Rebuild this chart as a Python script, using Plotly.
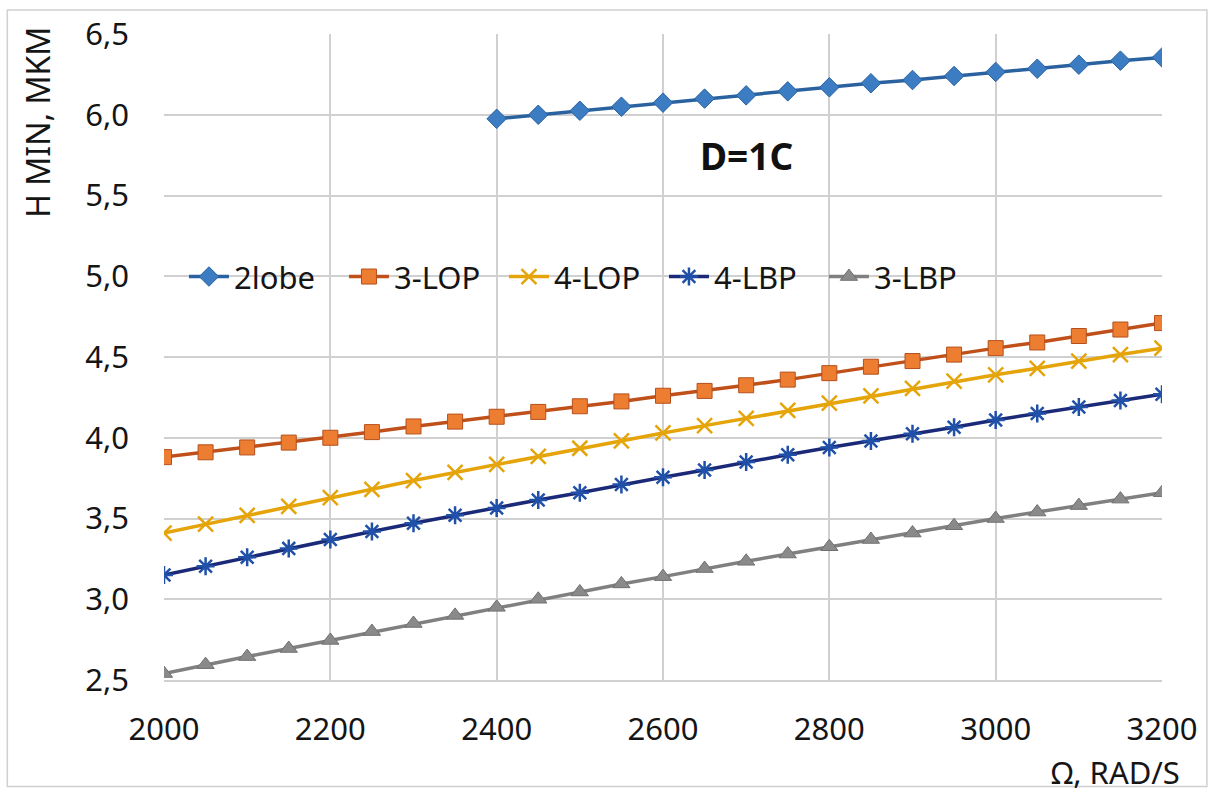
import plotly.graph_objects as go

omega = [2000, 2050, 2100, 2150, 2200, 2250, 2300, 2350, 2400, 2450, 2500, 2550, 2600,
         2650, 2700, 2750, 2800, 2850, 2900, 2950, 3000, 3050, 3100, 3150, 3200]
omega_2lobe = [2400, 2450, 2500, 2550, 2600, 2650, 2700, 2750, 2800, 2850, 2900, 2950,
               3000, 3050, 3100, 3150, 3200]
h_2lobe = [5.975, 6.0, 6.025, 6.05, 6.075, 6.10, 6.12, 6.145, 6.17, 6.195, 6.215, 6.24,
           6.265, 6.285, 6.31, 6.335, 6.355]
h_3lop = [3.88, 3.91, 3.94, 3.97, 4.00, 4.035, 4.07, 4.10, 4.13, 4.16, 4.195, 4.225, 4.26,
          4.29, 4.325, 4.36, 4.40, 4.44, 4.475, 4.515, 4.555, 4.59, 4.63, 4.67, 4.71]
h_4lop = [3.41, 3.465, 3.52, 3.575, 3.63, 3.68, 3.735, 3.785, 3.835, 3.885, 3.935, 3.98, 4.03,
          4.075, 4.12, 4.17, 4.215, 4.26, 4.305, 4.35, 4.39, 4.43, 4.475, 4.515, 4.555]
h_4lbp = [3.15, 3.205, 3.26, 3.315, 3.37, 3.42, 3.47, 3.52, 3.565, 3.615, 3.66, 3.71, 3.755,
          3.80, 3.85, 3.895, 3.94, 3.98, 4.025, 4.065, 4.11, 4.15, 4.19, 4.23, 4.27]
h_3lbp = [2.54, 2.595, 2.645, 2.695, 2.745, 2.80, 2.85, 2.90, 2.95, 3.00, 3.045, 3.095, 3.14,
          3.19, 3.235, 3.28, 3.325, 3.37, 3.41, 3.455, 3.50, 3.54, 3.58, 3.62, 3.66]

FONT = "Noto Sans"
TXT = "#151515"

fig = go.Figure()
fig.add_trace(go.Scatter(x=omega_2lobe, y=h_2lobe, name="2lobe", mode="lines+markers",
                         line=dict(color="#2a62a0", width=3.5),
                         marker=dict(symbol="diamond", size=15, color="#3b7cc2",
                                     line=dict(color="#2a62a0", width=1))))
fig.add_trace(go.Scatter(x=omega, y=h_3lop, name="3-LOP", mode="lines+markers",
                         line=dict(color="#c0501a", width=3.5),
                         marker=dict(symbol="square", size=15, color="#ed7d31",
                                     line=dict(color="#b5501c", width=1))))
fig.add_trace(go.Scatter(x=omega, y=h_4lop, name="4-LOP", mode="lines+markers",
                         line=dict(color="#e5a50a", width=3.5),
                         marker=dict(symbol="x-thin-open", size=15, color="#e5a50a",
                                     line=dict(color="#e5a50a", width=2.5))))
fig.add_trace(go.Scatter(x=omega, y=h_4lbp, name="4-LBP", mode="lines+markers",
                         line=dict(color="#1a2a78", width=3.5),
                         marker=dict(symbol="asterisk-open", size=15, color="#2050a8",
                                     line=dict(color="#2050a8", width=2.5))))
fig.add_trace(go.Scatter(x=omega, y=h_3lbp, name="3-LBP", mode="lines+markers",
                         line=dict(color="#808080", width=3.5),
                         marker=dict(symbol="triangle-up", size=15, color="#8a8a8a",
                                     line=dict(color="#707070", width=1))))

fig.update_layout(
    width=1214, height=794,
    margin=dict(l=164, r=52, t=31, b=114),
    paper_bgcolor="white", plot_bgcolor="white",
    separators=", ",
    font=dict(family=FONT, size=31, color=TXT),
    showlegend=True,
    legend=dict(orientation="h", x=0.02, y=0.624, xanchor="left", yanchor="middle",
                bgcolor="rgba(0,0,0,0)", font=dict(family=FONT, size=31, color=TXT),
                itemwidth=40, tracegroupgap=0, entrywidth=105, entrywidthmode="pixels"),
)
fig.update_xaxes(range=[2000, 3200], tickvals=[2000, 2200, 2400, 2600, 2800, 3000, 3200],
                 showgrid=True, gridcolor="#d0d0d0", gridwidth=1.5,
                 showline=True, linecolor="#d0d0d0", linewidth=1.5,
                 zeroline=False, ticks="", ticklabelstandoff=21,
                 tickfont=dict(family=FONT, size=31, color=TXT))
fig.update_yaxes(range=[2.5, 6.5], dtick=0.5, tickformat=".1f",
                 showgrid=True, gridcolor="#d0d0d0", gridwidth=1.5,
                 showline=False, zeroline=False, ticks="", ticklabelstandoff=34,
                 tickfont=dict(family=FONT, size=31, color=TXT))

fig.add_annotation(x=2700, y=5.75, xref="x", yref="y", text="<b>D=1C</b>", showarrow=False,
                   font=dict(family=FONT, size=37, color="#111111"))
fig.add_annotation(x=-0.127, y=1.014, xref="paper", yref="paper", text="H MIN, MKM",
                   textangle=-90, showarrow=False, xanchor="center", yanchor="top",
                   font=dict(family=FONT, size=32, color=TXT))
fig.add_annotation(x=1.02, y=-0.143, xref="paper", yref="paper", text="Ω, RAD/S",
                   showarrow=False, xanchor="right", yanchor="middle",
                   font=dict(family=FONT, size=31, color=TXT))
fig.add_shape(type="rect", xref="paper", yref="paper", x0=-0.157, x1=1.045, y0=-0.165, y1=1.037,
              line=dict(color="#d0d0d0", width=1.5), fillcolor="rgba(0,0,0,0)", layer="below")

fig.write_html("out.html")
